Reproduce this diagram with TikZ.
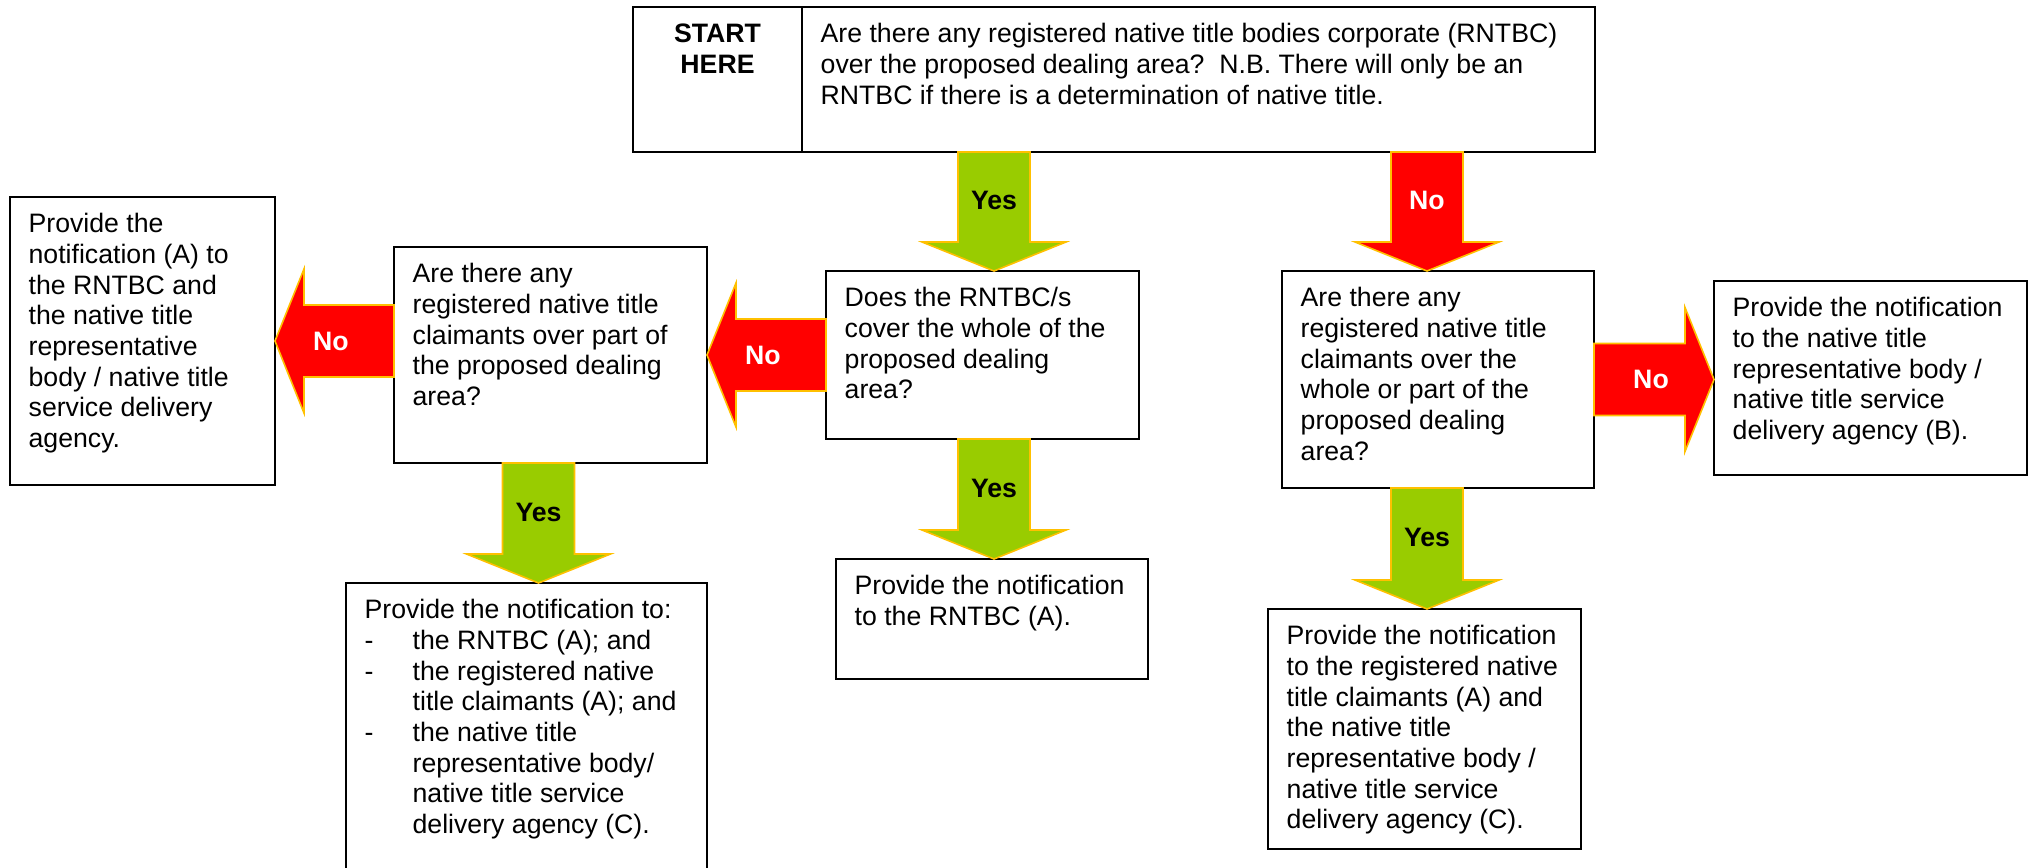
\documentclass[tikz,border=0pt]{standalone}
\usepackage{fontspec}
\setmainfont{Liberation Sans}
\usetikzlibrary{calc}

\definecolor{yesgreen}{RGB}{153,204,0}
\definecolor{nored}{RGB}{255,0,0}
\definecolor{arrowrim}{RGB}{255,192,0}

\tikzset{
  box/.style={draw=black, line width=0.7pt, anchor=north west, outer sep=0pt,
    inner xsep=7pt, inner ysep=0pt, align=flush left, text height=13.5pt,
    font=\fontsize{10}{11.5}\selectfont},
  yesarrow/.style={fill=yesgreen, draw=arrowrim, line width=0.6pt},
  noarrow/.style={fill=nored, draw=arrowrim, line width=0.6pt},
  yesarrow label/.style={text=black, inner sep=0pt, font=\fontsize{10}{12}\selectfont\bfseries},
  noarrow label/.style={text=white, inner sep=0pt, font=\fontsize{10}{12}\selectfont\bfseries},
}

\newcommand{\listdash}{\makebox[18pt][l]{-}}
\newcommand{\listgap}{\hspace*{18pt}}

% #1 kind, #2 label name, #3 tail, #4 tip, #5 label pos, #6 label
\newcommand{\blockarrow}[6]{%
  \coordinate (neck) at ($(#4)!10.875pt!(#3)$);
  \draw[#1] ($(#3)!13.5pt!90:(#4)$) -- ($(neck)!13.5pt!-90:(#3)$) -- ($(neck)!27pt!-90:(#3)$) -- (#4)
    -- ($(neck)!27pt!90:(#3)$) -- ($(neck)!13.5pt!90:(#3)$) -- ($(#3)!13.5pt!-90:(#4)$) -- cycle;
  \node[#1 label] (#2) at ($(#3)!#5!(#4)$) {#6};
}

\begin{document}
\begin{tikzpicture}[x=0.375pt,y=-0.375pt]
\useasboundingbox (0,0) rectangle (2031,868);

%Shape: Rectangle [start]
\node[box, align=flush center, text width=49.375pt, text depth=40.875pt, font=\fontsize{10}{11.5}\selectfont\bfseries] (start) at (633,7) {START\\HERE};
%Shape: Rectangle [question 0]
\node[box, text width=283.375pt, text depth=40.875pt] (q0) at (802,7)
  {Are there any registered native title bodies corporate (RNTBC)\\over the proposed dealing area?\ \ N.B. There will only be an\\RNTBC if there is a determination of native title.};

%Shape: Rectangle [question 1]
\node[box, text width=103.375pt, text depth=49.5pt] (q1) at (826,271)
  {Does the RNTBC/s\\cover the whole of the\\proposed dealing\\area?};
%Shape: Rectangle [question 2]
\node[box, text width=103.375pt, text depth=67.5pt] (q2) at (394,247)
  {Are there any\\registered native title\\claimants over part of\\the proposed dealing\\area?};
%Shape: Rectangle [question 3]
\node[box, text width=103pt, text depth=67.875pt] (q3) at (1282,271)
  {Are there any\\registered native title\\claimants over the\\whole or part of the\\proposed dealing\\area?};

%Shape: Rectangle [left outcome]
\node[box, text width=85.375pt, text depth=94.5pt] (l1) at (10,197)
  {Provide the\\notification (A) to\\the RNTBC and\\the native title\\representative\\body / native title\\service delivery\\agency.};
%Shape: Rectangle [outcome A1]
\node[box, text width=103pt, text depth=31.5pt] (a1) at (836,559)
  {Provide the notification\\to the RNTBC (A).};
%Shape: Rectangle [outcome A2]
\node[box, text width=121.375pt, text depth=96pt] (a2) at (346,583)
  {Provide the notification to:\\
   \listdash the RNTBC (A); and\\
   \listdash the registered native\\
   \listgap title claimants (A); and\\
   \listdash the native title\\
   \listgap representative body/\\
   \listgap native title service\\
   \listgap delivery agency (C).};
%Shape: Rectangle [outcome A3]
\node[box, text width=103.375pt, text depth=76.5pt] (a3) at (1268,609)
  {Provide the notification\\to the registered native\\title claimants (A) and\\the native title\\representative body /\\native title service\\delivery agency (C).};
%Shape: Rectangle [outcome B]
\node[box, text width=103.375pt, text depth=59.25pt] (b) at (1714,281)
  {Provide the notification\\to the native title\\representative body /\\native title service\\delivery agency (B).};

%Block Arrows
\blockarrow{yesarrow}{yes0}{994,0 |- q0.south}{994,0 |- q1.north}{0.41}{Yes}
\blockarrow{noarrow}{no0}{1427,0 |- q0.south}{1427,0 |- q3.north}{0.41}{No}
\blockarrow{noarrow}{no1}{q1.west}{q1.west -| q2.east}{0.53}{No}
\blockarrow{noarrow}{no2}{q2.west |- l1.east}{l1.east}{0.53}{No}
\blockarrow{yesarrow}{yes1}{994,0 |- q1.south}{994,0 |- a1.north}{0.41}{Yes}
\blockarrow{yesarrow}{yes2}{538.5,0 |- q2.south}{538.5,0 |- a2.north}{0.41}{Yes}
\blockarrow{noarrow}{no3}{q3.east}{q3.east -| b.west}{0.475}{No}
\blockarrow{yesarrow}{yes3}{1427,0 |- q3.south}{1427,0 |- a3.north}{0.41}{Yes}

\end{tikzpicture}
\end{document}
